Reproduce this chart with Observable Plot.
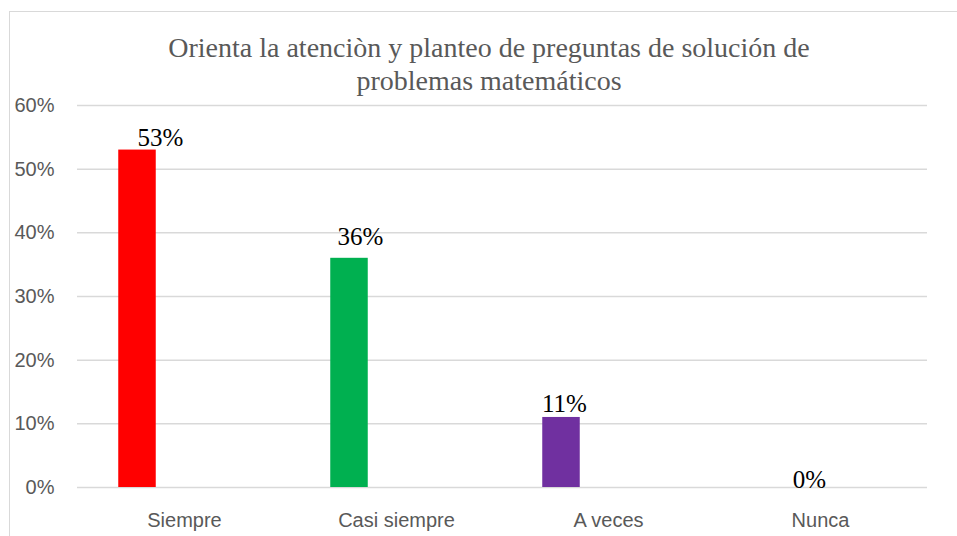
<!DOCTYPE html>
<html>
<head>
<meta charset="utf-8">
<script src="https://cdn.jsdelivr.net/npm/d3@7"></script>
<script src="https://cdn.jsdelivr.net/npm/@observablehq/plot@0.6"></script>
<style>
  html, body { margin: 0; padding: 0; background: #fff; }
  #wrap { position: relative; width: 957px; height: 536px; overflow: hidden; }
  #frame { position: absolute; left: 9px; top: 11px; width: 1000px; height: 600px; border: 1.5px solid #d9d9d9; box-sizing: border-box; }
  #title { position: absolute; left: 0; top: 31px; width: 978px; text-align: center;
           font-family: "Liberation Serif", "Times New Roman", serif; font-size: 28px; line-height: 33px; color: #595959; }
  #chart { position: absolute; left: 0; top: 0; }
</style>
</head>
<body>
<div id="wrap">
  <div id="frame"></div>
  <div id="chart"></div>
  <div id="title">Orienta la atenciòn y planteo de preguntas de solución de<br>problemas matemáticos</div>
</div>
<script>
const categories = ["Siempre", "Casi siempre", "A veces", "Nunca"];
const values = [0.53, 0.36, 0.11, 0.00];
const labels = ["53%", "36%", "11%", "0%"];
const colors = ["#FF0000", "#00B050", "#7030A0", "#7030A0"];
const yTicks = [0, 0.1, 0.2, 0.3, 0.4, 0.5, 0.6];

// manual label nudges as placed in the original (pixels)
const labelDx = [-24, -36, -44, -11];
const labelDy = [-4, -13, -5, 0];

const data = categories.map((c, i) => ({category: c, value: values[i], label: labels[i], color: colors[i], dx: labelDx[i], dy: labelDy[i]}));

const chart = Plot.plot({
  width: 957,
  height: 536,
  marginLeft: 77,
  marginRight: 30,
  marginTop: 105,
  marginBottom: 49,
  style: {background: "transparent", fontFamily: "'Liberation Sans', Arial, sans-serif"},
  x: {domain: categories, padding: 0, label: null},
  y: {domain: [0, 0.6], label: null},
  marks: [
    Plot.ruleY(yTicks, {stroke: "#d9d9d9", strokeWidth: 1.5}),
    Plot.barY(data, {x: "category", y: "value", fill: d => d.color, insetLeft: 87.25, insetRight: 87.25, dx: -47}),
    Plot.axisY({ticks: yTicks, tickFormat: d3.format(".0%"), tickSize: 0, tickPadding: 23, fontSize: 20, fill: "#595959", label: null}),
    Plot.axisX({tickSize: 0, tickPadding: 25, fontSize: 20, fill: "#595959", label: null}),
    ...data.map(d => Plot.text([d], {x: "category", y: "value", text: "label", dx: d.dx, dy: d.dy, lineAnchor: "bottom",
      fontSize: 25, fontFamily: "'Liberation Serif', 'Times New Roman', serif", fill: "#000"}))
  ]
});
document.getElementById("chart").appendChild(chart);
</script>
</body>
</html>
